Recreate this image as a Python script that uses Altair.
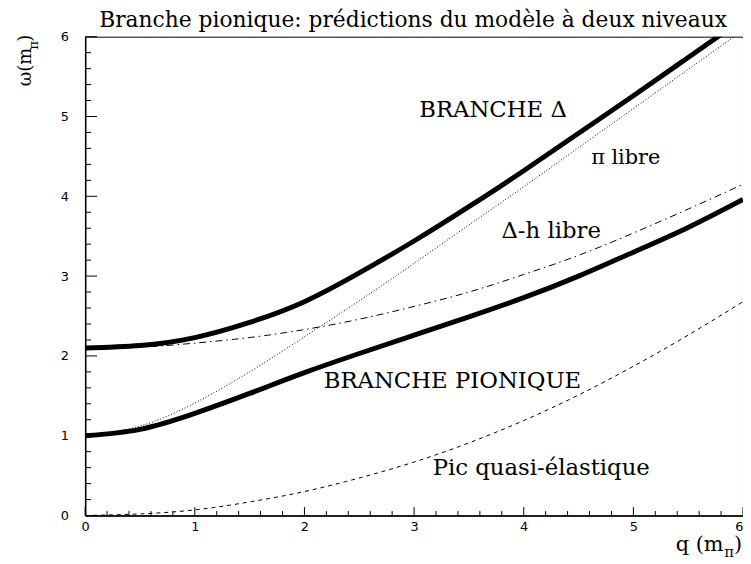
import altair as alt
import pandas as pd

# ---- data ----
q = [0.0, 0.5, 1.0, 1.5, 2.0, 2.5, 3.0, 3.5, 4.0, 4.5, 5.0, 5.5, 6.0]
branche_delta = [2.10, 2.13, 2.23, 2.42, 2.68, 3.04, 3.44, 3.87, 4.32, 4.79, 5.26, 5.74, 6.22]
branche_pionique = [1.00, 1.08, 1.28, 1.53, 1.79, 2.03, 2.26, 2.49, 2.73, 3.00, 3.30, 3.61, 3.96]
pi_libre = [1.00, 1.12, 1.41, 1.80, 2.24, 2.69, 3.16, 3.64, 4.12, 4.61, 5.10, 5.59, 6.08]
dh_libre = [2.10, 2.11, 2.16, 2.23, 2.33, 2.46, 2.62, 2.80, 3.02, 3.26, 3.54, 3.84, 4.15]
quasi_elastique = [0.00, 0.02, 0.07, 0.17, 0.30, 0.47, 0.67, 0.91, 1.19, 1.51, 1.87, 2.26, 2.68]

major_ticks = [0, 1, 2, 3, 4, 5, 6]
minor_ticks = [0.2, 0.4, 0.6, 0.8, 1.2, 1.4, 1.6, 1.8, 2.2, 2.4, 2.6, 2.8,
               3.2, 3.4, 3.6, 3.8, 4.2, 4.4, 4.6, 4.8, 5.2, 5.4, 5.6, 5.8]

ann_labels = ["BRANCHE Δ", "Δ-h libre", "BRANCHE PIONIQUE", "Pic quasi-élastique"]
ann_q = [3.72, 4.25, 3.35, 4.16]
ann_w = [5.00, 3.48, 1.595, 0.505]
pi_label = ["π libre"]
pi_q = [4.93]
pi_w = [4.40]

title_text = "Branche pionique: prédictions du modèle à deux niveaux"

# ---- chart ----
W, H = 665, 484
xs = alt.Scale(domain=[0, 6], nice=False, zero=False)
ys = alt.Scale(domain=[0, 6], nice=False, zero=False)
SERIF = "DejaVu Serif"

x_axis = alt.Axis(values=major_ticks, ticks=False, grid=False, labelPadding=5,
                  labelFont="DejaVu Sans", labelFontSize=13, labelColor="black",
                  domainColor="black", domainWidth=1.5, format="d", labelFlush=False,
                  labelOverlap=False,
                  labelAlign=alt.ExprRef(expr="datum.value >= 6 ? 'right' : 'center'"))
y_axis = alt.Axis(values=major_ticks, ticks=False, grid=False, labelPadding=17,
                  labelFont="DejaVu Sans", labelFontSize=13, labelColor="black",
                  domainColor="black", domainWidth=1.5, format="d", labelFlush=False,
                  labelOverlap=False)


def X(field):
    return alt.X(field, scale=xs, axis=x_axis, title=None)


def Y(field):
    return alt.Y(field, scale=ys, axis=y_axis, title=None)


def curve(vals, width, dash=None):
    df = pd.DataFrame({"q": q, "w": vals})
    kw = dict(color="black", strokeWidth=width, clip=True, interpolate="natural")
    if dash:
        kw["strokeDash"] = dash
    return alt.Chart(df).mark_line(**kw).encode(x=X("q:Q"), y=Y("w:Q"))


maj = pd.DataFrame({"v": major_ticks})
mnr = pd.DataFrame({"v": minor_ticks})

ytick_major = alt.Chart(maj).mark_rule(color="black", strokeWidth=1).encode(
    y=Y("v:Q"), x=alt.value(0), x2=alt.value(12))
ytick_minor = alt.Chart(mnr).mark_rule(color="black", strokeWidth=1).encode(
    y=Y("v:Q"), x=alt.value(0), x2=alt.value(6))
xtick_major = alt.Chart(maj).mark_rule(color="black", strokeWidth=1).encode(
    x=X("v:Q"), y=alt.value(H), y2=alt.value(H - 8.5))
xtick_minor = alt.Chart(mnr).mark_rule(color="black", strokeWidth=1).encode(
    x=X("v:Q"), y=alt.value(H), y2=alt.value(H - 4.5))

ann = alt.Chart(pd.DataFrame({"q": ann_q, "w": ann_w, "t": ann_labels})).mark_text(
    font=SERIF, fontSize=23, align="center", baseline="alphabetic", color="black"
).encode(x=X("q:Q"), y=Y("w:Q"), text="t:N")
ann_pi = alt.Chart(pd.DataFrame({"q": pi_q, "w": pi_w, "t": pi_label})).mark_text(
    font=SERIF, fontSize=21, align="center", baseline="alphabetic", color="black"
).encode(x=X("q:Q"), y=Y("w:Q"), text="t:N")


def label(txt, x, y, size, angle=0, align="left"):
    kw = dict(font=SERIF, fontSize=size, align=align, baseline="alphabetic", color="black")
    if angle:
        kw["angle"] = angle
    return alt.Chart(pd.DataFrame({"t": [txt]})).mark_text(**kw).encode(
        x=alt.value(x), y=alt.value(y), text="t:N")


title_layer = label(title_text, W / 2 - 1, -10, 22, align="center")
ytitle_a = label("ω(m", -55, 50, 18, angle=270)
ytitle_b = label("π", -48, 13, 13, angle=270)
ytitle_c = label(")", -55, 5, 18, angle=270)
xtitle_a = label("q (m", 597, 520, 21)
xtitle_b = label("π", 646, 526, 15)
xtitle_c = label(")", 656, 520, 21)

chart = alt.layer(
    curve(quasi_elastique, 1, [4, 4]),
    curve(dh_libre, 1, [7, 4, 1.5, 4]),
    curve(pi_libre, 1, [1, 2]),
    curve(branche_pionique, 5),
    curve(branche_delta, 5),
    ytick_major, ytick_minor, xtick_major, xtick_minor,
    ann, ann_pi, title_layer,
    ytitle_a, ytitle_b, ytitle_c, xtitle_a, xtitle_b, xtitle_c,
).properties(
    width=W, height=H,
    padding={"left": 78, "top": 26, "right": 0, "bottom": 45},
    autosize=alt.AutoSizeParams(type="none"),
).configure_view(stroke="black", strokeWidth=1)

chart.save("out.html", embed_options={"renderer": "svg", "actions": False})
